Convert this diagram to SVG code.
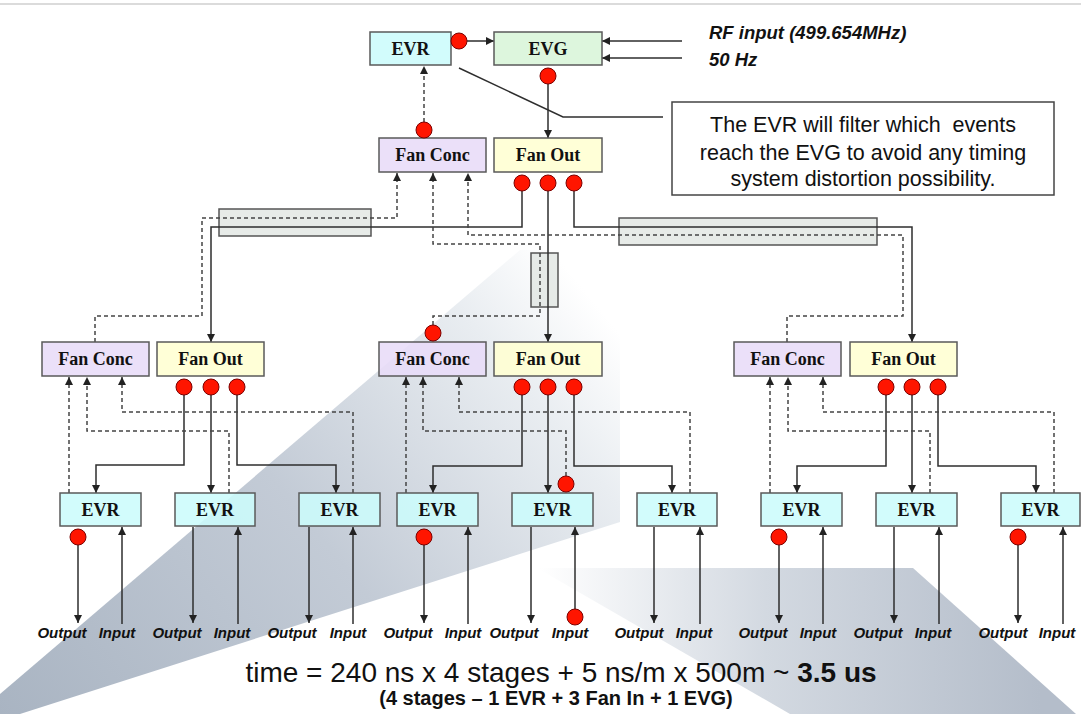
<svg xmlns="http://www.w3.org/2000/svg" width="1081" height="714" viewBox="0 0 1081 714">
<defs>
<linearGradient id="beam1" gradientUnits="userSpaceOnUse" x1="0" y1="714" x2="560" y2="260">
<stop offset="0" stop-color="#a9b4c2"/>
<stop offset="0.5" stop-color="#c3cbd6"/>
<stop offset="0.85" stop-color="#e9edf1"/>
<stop offset="1" stop-color="#ffffff"/>
</linearGradient>
<linearGradient id="beam2" gradientUnits="userSpaceOnUse" x1="540" y1="0" x2="1040" y2="0">
<stop offset="0" stop-color="#ffffff"/>
<stop offset="0.45" stop-color="#d3d9e1"/>
<stop offset="1" stop-color="#b4bdca"/>
</linearGradient>
<marker id="ah" viewBox="0 0 8 8" refX="8" refY="4" markerWidth="8" markerHeight="8" markerUnits="userSpaceOnUse" orient="auto">
<path d="M0,0 L8,4 L0,8 z" fill="#222"/>
</marker>
<style>
.box{stroke:#5a5a5a;stroke-width:1.5;fill-opacity:0.88}
.evr{fill:#ccfcfc}
.evg{fill:#d8f5d8}
.conc{fill:#e8dcf8}
.out{fill:#ffffd2}
.tube{fill:#dfe4e0;stroke:#555;stroke-width:1.5;fill-opacity:0.75}
.bt{font-family:"Liberation Serif",serif;font-weight:bold;font-size:18px;text-anchor:middle;fill:#111}
.io{font-family:"Liberation Sans",Arial,sans-serif;font-weight:bold;font-style:italic;font-size:15px;text-anchor:middle;fill:#111}
.sl{fill:none;stroke:#2e2e2e;stroke-width:1.5}
.dl{fill:none;stroke:#444;stroke-width:1.5;stroke-dasharray:4 3}
.port{fill:#ff1500;stroke:#7a0000;stroke-width:1}
.co{font-family:"Liberation Sans",Arial,sans-serif;font-size:21.5px;text-anchor:middle;fill:#111}
</style>
</defs>
<rect width="1081" height="714" fill="#ffffff"/>
<g id="background">
<polygon points="0,694 520,250 620,250 620,522 20,714 0,714" fill="url(#beam1)"/>
<polygon points="537,568 913,568 1076,714 790,714" fill="url(#beam2)"/>
<line x1="0" y1="4" x2="1081" y2="4" stroke="#cfcfcf" stroke-width="1.5"/>
</g>
<g id="cables">
<rect class="tube" x="219" y="209" width="152" height="27"/>
<rect class="tube" x="531" y="253" width="27" height="54"/>
<rect class="tube" x="619" y="218" width="258" height="27"/>
</g>
<g id="connectors">
<path class="sl" d="M467,41 H494" marker-end="url(#ah)"/>
<path class="sl" d="M682,41 H602" marker-end="url(#ah)"/>
<path class="sl" d="M682,58 H602" marker-end="url(#ah)"/>
<path class="sl" d="M548,84 V138" marker-end="url(#ah)"/>
<path class="dl" d="M424,122 V66" marker-end="url(#ah)"/>
<path class="sl" d="M459,68 L563,117 H663"/>
<path class="sl" d="M522,191 V227 H211 V342" marker-end="url(#ah)"/>
<path class="sl" d="M548,191 V342" marker-end="url(#ah)"/>
<path class="sl" d="M574,191 V227 H912 V342" marker-end="url(#ah)"/>
<path class="dl" d="M95,342 V316 H202 V218 H397 V173" marker-end="url(#ah)"/>
<path class="dl" d="M433,325 V316 H540 V244 H433 V173" marker-end="url(#ah)"/>
<path class="dl" d="M787,342 V316 H903 V235 H468 V173" marker-end="url(#ah)"/>
<path class="sl" d="M184,395 V465 H96 V493" marker-end="url(#ah)"/>
<path class="sl" d="M211,395 V493" marker-end="url(#ah)"/>
<path class="sl" d="M237,395 V465 H336 V493" marker-end="url(#ah)"/>
<path class="dl" d="M69,493 V377" marker-end="url(#ah)"/>
<path class="dl" d="M229,493 V431 H87 V377" marker-end="url(#ah)"/>
<path class="dl" d="M353,493 V412 H122 V377" marker-end="url(#ah)"/>
<path class="sl" d="M522,395 V466 H433 V493" marker-end="url(#ah)"/>
<path class="sl" d="M548,395 V493" marker-end="url(#ah)"/>
<path class="sl" d="M574,395 V466 H672 V493" marker-end="url(#ah)"/>
<path class="dl" d="M406,493 V377" marker-end="url(#ah)"/>
<path class="dl" d="M566,476 V431 H423 V377" marker-end="url(#ah)"/>
<path class="dl" d="M690,493 V412 H459 V377" marker-end="url(#ah)"/>
<path class="sl" d="M886,395 V466 H797 V493" marker-end="url(#ah)"/>
<path class="sl" d="M912,395 V493" marker-end="url(#ah)"/>
<path class="sl" d="M938,395 V466 H1036 V493" marker-end="url(#ah)"/>
<path class="dl" d="M770,493 V377" marker-end="url(#ah)"/>
<path class="dl" d="M930,493 V431 H788 V377" marker-end="url(#ah)"/>
<path class="dl" d="M1054,493 V412 H823 V377" marker-end="url(#ah)"/>
<path class="sl" d="M78,545 V623" marker-end="url(#ah)"/>
<path class="sl" d="M122,624 V527" marker-end="url(#ah)"/>
<path class="sl" d="M193,527 V623" marker-end="url(#ah)"/>
<path class="sl" d="M238,624 V527" marker-end="url(#ah)"/>
<path class="sl" d="M309,527 V623" marker-end="url(#ah)"/>
<path class="sl" d="M353,624 V527" marker-end="url(#ah)"/>
<path class="sl" d="M424,545 V623" marker-end="url(#ah)"/>
<path class="sl" d="M468,624 V527" marker-end="url(#ah)"/>
<path class="sl" d="M531,527 V623" marker-end="url(#ah)"/>
<path class="sl" d="M575,609 V527" marker-end="url(#ah)"/>
<path class="sl" d="M654,527 V623" marker-end="url(#ah)"/>
<path class="sl" d="M700,624 V527" marker-end="url(#ah)"/>
<path class="sl" d="M779,545 V623" marker-end="url(#ah)"/>
<path class="sl" d="M823,624 V527" marker-end="url(#ah)"/>
<path class="sl" d="M894,527 V623" marker-end="url(#ah)"/>
<path class="sl" d="M939,624 V527" marker-end="url(#ah)"/>
<path class="sl" d="M1018,545 V623" marker-end="url(#ah)"/>
<path class="sl" d="M1063,624 V527" marker-end="url(#ah)"/>
</g>
<g id="evr-top"><rect class="box evr" x="370" y="32" width="81" height="33"/><text class="bt" x="410.5" y="55">EVR</text></g>
<g id="evg"><rect class="box evg" x="494" y="32" width="108" height="33"/><text class="bt" x="548" y="55">EVG</text></g>
<g id="rf-labels">
<text class="io" style="font-size:18.5px;text-anchor:start" x="709" y="39">RF input (499.654MHz)</text>
<text class="io" style="font-size:18.5px;text-anchor:start" x="709" y="66">50 Hz</text>
</g>
<g id="callout">
<rect x="672" y="102" width="382" height="93" fill="#ffffff" stroke="#444" stroke-width="1.5"/>
<text class="co" x="863" y="132" xml:space="preserve">The EVR will filter which  events</text>
<text class="co" x="863" y="160">reach the EVG to avoid any timing</text>
<text class="co" x="863" y="186">system distortion possibility.</text>
</g>
<g id="fanconc-top"><rect class="box conc" x="379" y="138" width="107" height="34"/><text class="bt" x="432.5" y="161">Fan Conc</text></g>
<g id="fanout-top"><rect class="box out" x="494" y="138" width="108" height="34"/><text class="bt" x="548" y="161">Fan Out</text></g>
<g id="fanconc-left"><rect class="box conc" x="42" y="342" width="107" height="34"/><text class="bt" x="95.5" y="365">Fan Conc</text></g>
<g id="fanout-left"><rect class="box out" x="157" y="342" width="107" height="34"/><text class="bt" x="210.5" y="365">Fan Out</text></g>
<g id="fanconc-mid"><rect class="box conc" x="379" y="342" width="107" height="34"/><text class="bt" x="432.5" y="365">Fan Conc</text></g>
<g id="fanout-mid"><rect class="box out" x="494" y="342" width="108" height="34"/><text class="bt" x="548" y="365">Fan Out</text></g>
<g id="fanconc-right"><rect class="box conc" x="734" y="342" width="107" height="34"/><text class="bt" x="787.5" y="365">Fan Conc</text></g>
<g id="fanout-right"><rect class="box out" x="850" y="342" width="107" height="34"/><text class="bt" x="903.5" y="365">Fan Out</text></g>
<g id="evr1"><rect class="box evr" x="60" y="493" width="81" height="33"/><text class="bt" x="100.5" y="516">EVR</text></g>
<g id="evr2"><rect class="box evr" x="175" y="493" width="80" height="33"/><text class="bt" x="215" y="516">EVR</text></g>
<g id="evr3"><rect class="box evr" x="299" y="493" width="81" height="33"/><text class="bt" x="339.5" y="516">EVR</text></g>
<g id="evr4"><rect class="box evr" x="397" y="493" width="81" height="33"/><text class="bt" x="437.5" y="516">EVR</text></g>
<g id="evr5"><rect class="box evr" x="512" y="493" width="81" height="33"/><text class="bt" x="552.5" y="516">EVR</text></g>
<g id="evr6"><rect class="box evr" x="637" y="493" width="80" height="33"/><text class="bt" x="677" y="516">EVR</text></g>
<g id="evr7"><rect class="box evr" x="761" y="493" width="81" height="33"/><text class="bt" x="801.5" y="516">EVR</text></g>
<g id="evr8"><rect class="box evr" x="876" y="493" width="81" height="33"/><text class="bt" x="916.5" y="516">EVR</text></g>
<g id="evr9"><rect class="box evr" x="1001" y="493" width="79" height="33"/><text class="bt" x="1040.5" y="516">EVR</text></g>
<g id="ports">
<circle class="port" cx="459" cy="41" r="8"/>
<circle class="port" cx="548" cy="76" r="8"/>
<circle class="port" cx="424" cy="130" r="8"/>
<circle class="port" cx="522" cy="183" r="8"/>
<circle class="port" cx="548" cy="183" r="8"/>
<circle class="port" cx="574" cy="183" r="8"/>
<circle class="port" cx="433" cy="333" r="8"/>
<circle class="port" cx="184" cy="387" r="8"/>
<circle class="port" cx="211" cy="387" r="8"/>
<circle class="port" cx="237" cy="387" r="8"/>
<circle class="port" cx="522" cy="387" r="8"/>
<circle class="port" cx="548" cy="387" r="8"/>
<circle class="port" cx="574" cy="387" r="8"/>
<circle class="port" cx="886" cy="387" r="8"/>
<circle class="port" cx="912" cy="387" r="8"/>
<circle class="port" cx="938" cy="387" r="8"/>
<circle class="port" cx="566" cy="484" r="8"/>
<circle class="port" cx="78" cy="537" r="8"/>
<circle class="port" cx="424" cy="537" r="8"/>
<circle class="port" cx="779" cy="537" r="8"/>
<circle class="port" cx="1018" cy="537" r="8"/>
<circle class="port" cx="575" cy="617" r="8"/>
</g>
<g id="io-labels">
<text class="io" x="62" y="638">Output</text><text class="io" x="117" y="638">Input</text>
<text class="io" x="177" y="638">Output</text><text class="io" x="232" y="638">Input</text>
<text class="io" x="292" y="638">Output</text><text class="io" x="348" y="638">Input</text>
<text class="io" x="408" y="638">Output</text><text class="io" x="463" y="638">Input</text>
<text class="io" x="514" y="638">Output</text><text class="io" x="570" y="638">Input</text>
<text class="io" x="639" y="638">Output</text><text class="io" x="694" y="638">Input</text>
<text class="io" x="763" y="638">Output</text><text class="io" x="818" y="638">Input</text>
<text class="io" x="878" y="638">Output</text><text class="io" x="933" y="638">Input</text>
<text class="io" x="1003" y="638">Output</text><text class="io" x="1057" y="638">Input</text>
</g>
<g id="formula">
<text x="561" y="682" font-family="'Liberation Sans',Arial,sans-serif" font-size="28" text-anchor="middle" fill="#111">time = 240 ns x 4 stages + 5 ns/m x 500m ~ <tspan font-weight="bold">3.5 us</tspan></text>
<text x="556" y="705" font-family="'Liberation Sans',Arial,sans-serif" font-size="20" font-weight="bold" text-anchor="middle" fill="#111">(4 stages – 1 EVR + 3 Fan In + 1 EVG)</text>
</g>
</svg>
